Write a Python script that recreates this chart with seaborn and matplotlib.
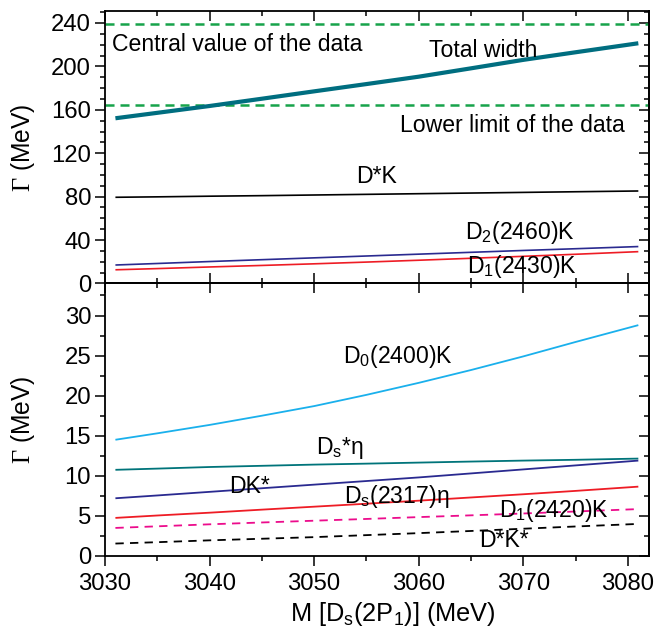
import numpy as np
import pandas as pd
import seaborn as sns
import matplotlib
matplotlib.use("Agg")
import matplotlib.pyplot as plt
from matplotlib.ticker import MultipleLocator

# ---- data -------------------------------------------------------------
mass = [3031, 3035, 3040, 3045, 3050, 3055, 3060, 3065, 3070, 3075, 3081]

# upper panel (MeV)
total_width = [152.2, 157.2, 163.5, 170.2, 177.0, 183.7, 190.5, 198.2, 206.0, 213.0, 221.3]
dstar_k = [79.4, 79.8, 80.4, 80.9, 81.5, 82.1, 82.7, 83.3, 83.9, 84.5, 85.2]
d2_2460_k = [17.0, 18.4, 20.2, 21.9, 23.6, 25.3, 27.0, 28.7, 30.4, 32.0, 34.0]
d1_2430_k = [12.6, 13.7, 15.2, 16.6, 18.1, 19.7, 21.4, 23.2, 25.0, 26.9, 29.3]
data_central = 239.0
data_lower = 164.0

# lower panel (MeV)
d0_2400_k = [14.5, 15.3, 16.35, 17.5, 18.7, 20.1, 21.6, 23.2, 24.9, 26.7, 28.8]
dsstar_eta = [10.75, 10.9, 11.1, 11.25, 11.4, 11.52, 11.65, 11.78, 11.9, 12.0, 12.15]
d_kstar = [7.2, 7.55, 8.0, 8.45, 8.9, 9.35, 9.8, 10.3, 10.8, 11.3, 11.9]
ds2317_eta = [4.75, 5.05, 5.4, 5.78, 6.15, 6.52, 6.9, 7.3, 7.7, 8.12, 8.65]
d1_2420_k = [3.5, 3.7, 3.95, 4.18, 4.4, 4.62, 4.85, 5.07, 5.3, 5.55, 5.85]
dstar_kstar = [1.55, 1.72, 1.95, 2.15, 2.35, 2.6, 2.85, 3.12, 3.4, 3.68, 4.0]

# ---- style ------------------------------------------------------------
sns.set_theme(style="ticks")
plt.rcParams["font.family"] = ["Liberation Sans", "DejaVu Sans"]
plt.rcParams["mathtext.fontset"] = "custom"
plt.rcParams["mathtext.rm"] = "Liberation Sans"
plt.rcParams["mathtext.it"] = "Liberation Sans:italic"
plt.rcParams["mathtext.cal"] = "Liberation Serif"
plt.rcParams["lines.scale_dashes"] = False
plt.rcParams["axes.linewidth"] = 1.3
for key in ("text.color", "axes.labelcolor", "xtick.color", "ytick.color",
            "axes.edgecolor"):
    plt.rcParams[key] = "black"

FS = 16.6
TFS = 17.2

C_TOTAL = "#006E80"
C_GREEN = "#17A34A"
C_NAVY = "#2A2A90"
C_RED = "#EE1C25"
C_SKY = "#1AB0EC"
C_TEAL = "#00747A"
C_MAG = "#EC0C8C"

fig = plt.figure(figsize=(6.56, 6.37), dpi=100)
ax_top = fig.add_axes([0.160, 0.555, 0.829, 0.4277])
ax_bot = fig.add_axes([0.160, 0.1272, 0.829, 0.4278], sharex=ax_top)

df = pd.DataFrame({"M": mass})


def line(ax, y, color, lw, ls="-"):
    sns.lineplot(x=df["M"], y=y, ax=ax, color=color, lw=lw, linestyle=ls,
                 solid_capstyle="butt", dash_capstyle="butt")


# upper panel
ax_top.axhline(data_central, color=C_GREEN, lw=1.8, linestyle=(0, (6.5, 4.3)))
ax_top.axhline(data_lower, color=C_GREEN, lw=1.8, linestyle=(0, (6.5, 4.3)))
line(ax_top, total_width, C_TOTAL, 3.0)
line(ax_top, dstar_k, "black", 1.2)
line(ax_top, d2_2460_k, C_NAVY, 1.2)
line(ax_top, d1_2430_k, C_RED, 1.2)

# lower panel
line(ax_bot, d0_2400_k, C_SKY, 1.3)
line(ax_bot, dsstar_eta, C_TEAL, 1.3)
line(ax_bot, d_kstar, C_NAVY, 1.3)
line(ax_bot, ds2317_eta, C_RED, 1.3)
line(ax_bot, d1_2420_k, C_MAG, 1.3, (0, (6.0, 4.5)))
line(ax_bot, dstar_kstar, "black", 1.3, (0, (6.0, 4.5)))

# annotations
ax_top.text(3030.7, 214.6, "Central value of the data", fontsize=FS)
ax_top.text(3066.2, 208.7, "Total width", fontsize=FS, ha="center")
ax_top.text(3069.0, 139.6, "Lower limit of the data", fontsize=FS, ha="center")
ax_top.text(3056.0, 92.6, "D*K", fontsize=FS, ha="center")
ax_top.text(3064.4, 40.7, r"D$_\mathrm{2}$(2460)K", fontsize=FS)
ax_top.text(3064.6, 9.4, r"D$_\mathrm{1}$(2430)K", fontsize=FS)

ax_bot.text(3052.8, 24.06, r"D$_\mathrm{0}$(2400)K", fontsize=FS)
ax_bot.text(3050.2, 12.7, r"D$_\mathrm{s}$*η", fontsize=FS)
ax_bot.text(3041.9, 7.8, "DK*", fontsize=FS)
ax_bot.text(3052.9, 6.6, r"D$_\mathrm{s}$(2317)η", fontsize=FS)
ax_bot.text(3067.7, 4.83, r"D$_\mathrm{1}$(2420)K", fontsize=FS)
ax_bot.text(3065.8, 1.16, "D*K*", fontsize=FS)

# axes
ax_top.set_xlim(3030, 3082)
ax_top.set_ylim(0, 251)
ax_bot.set_ylim(0, 34)

ax_top.yaxis.set_major_locator(MultipleLocator(40))
ax_top.yaxis.set_minor_locator(MultipleLocator(10))
ax_bot.yaxis.set_major_locator(MultipleLocator(5))
ax_bot.yaxis.set_minor_locator(MultipleLocator(2.5))
ax_bot.xaxis.set_major_locator(MultipleLocator(10))
ax_bot.xaxis.set_minor_locator(MultipleLocator(5))

MAJ, MIN = 7.0, 3.6
for ax in (ax_top, ax_bot):
    ax.tick_params(axis="y", which="major", direction="out", length=MAJ,
                   width=1.1, labelsize=TFS, pad=3)
    ax.tick_params(axis="y", which="minor", direction="out", length=MIN,
                   width=1.1)
    ax.set_ylabel(r"$\mathcal{\Gamma}$ (MeV)", fontsize=TFS + 0.5)
    ax.yaxis.set_label_coords(-0.125, 0.5)
    sec = ax.secondary_yaxis("right")
    sec.yaxis.set_major_locator(ax.yaxis.get_major_locator())
    sec.yaxis.set_minor_locator(ax.yaxis.get_minor_locator())
    sec.tick_params(axis="y", which="major", direction="in", length=MAJ,
                    width=1.1, labelright=False)
    sec.tick_params(axis="y", which="minor", direction="in", length=MIN,
                    width=1.1)
    for sp in ax.spines.values():
        sp.set_visible(True)
    sec.spines["right"].set_linewidth(1.3)
    ax.set_xlabel("")

ax_top.tick_params(axis="x", which="major", direction="in", length=MAJ,
                   width=1.1, top=True, bottom=True, labelbottom=False)
ax_top.tick_params(axis="x", which="minor", direction="in", length=MIN,
                   width=1.1, top=True, bottom=True)

ax_bot.tick_params(axis="x", which="major", direction="out", length=MAJ,
                   width=1.1, labelsize=TFS, pad=5)
ax_bot.tick_params(axis="x", which="minor", direction="out", length=MIN,
                   width=1.1)
secx = ax_bot.secondary_xaxis("top")
secx.xaxis.set_major_locator(MultipleLocator(10))
secx.xaxis.set_minor_locator(MultipleLocator(5))
secx.tick_params(axis="x", which="major", direction="in", length=MAJ,
                 width=1.1, labeltop=False)
secx.tick_params(axis="x", which="minor", direction="in", length=MIN,
                 width=1.1)

ax_bot.set_xlabel(r"M [D$_\mathrm{s}$(2P$_\mathrm{1}$)] (MeV)", fontsize=18.3,
                  labelpad=5)
ax_bot.xaxis.set_label_coords(0.53, -0.163)

fig.savefig("out.png", dpi=100)
